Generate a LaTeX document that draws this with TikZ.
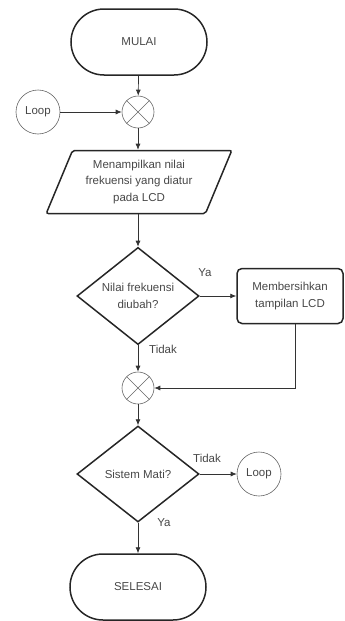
\documentclass[tikz,border=0pt]{standalone}
\usepackage{fontspec}
\setmainfont{Liberation Sans}
\usetikzlibrary{shapes.geometric,arrows.meta}

\begin{document}
\begin{tikzpicture}[x=1pt, y=-1pt,
		font=\fontsize{11.5}{16.5}\selectfont, text=black!72,
		terminal/.style={draw=black!85, line width=1.5pt, rectangle, rounded corners=33pt, minimum width=136pt, minimum height=66pt},
		proses/.style={draw=black!85, line width=1.5pt, rectangle, rounded corners=5pt, minimum width=106pt, minimum height=55pt, align=center},
		io/.style={draw=black!85, line width=1.5pt, trapezium, trapezium left angle=66, trapezium right angle=114, trapezium stretches=true, minimum width=186pt, minimum height=63pt, rounded corners=2pt, align=center},
		keputusan/.style={draw=black!85, line width=1.5pt, diamond, minimum width=122pt, minimum height=96pt, inner sep=0pt, align=center},
		gabung/.style={draw=black!60, line width=0.6pt, circle, minimum size=32pt, inner sep=0pt,
			path picture={\draw[black!60, line width=0.6pt] (path picture bounding box.north west) -- (path picture bounding box.south east) (path picture bounding box.north east) -- (path picture bounding box.south west);}},
		konektor/.style={draw=black!60, line width=0.6pt, circle, minimum size=44pt, inner sep=0pt},
		panah/.style={draw=black!80, line width=0.7pt, -{Latex[length=6pt,width=5pt]}}]
			%%%%% START %%%%%
			\useasboundingbox (0,0) rectangle (345,621);
			
			\node[terminal] (mulai) at (139, 42) {MULAI};
			\node[gabung] (m1) at (138, 112) {};
			\node[konektor] (loop1) at (38, 112) {Loop};
			\node[io] (inp) at (139, 182) {Menampilkan nilai\\frekuensi yang diatur\\pada LCD};
			
			\node[keputusan] (cek1) at (138, 296) {Nilai frekuensi\\diubah?};
			\node[proses] (hapus) at (290, 296) {Membersihkan\\tampilan LCD};
			\node[gabung] (m2) at (138, 388) {};
			
			\node[keputusan] (cek2) at (138, 474) {Sistem Mati?};
			\node[konektor] (loop2) at (259, 474) {Loop};
			\node[terminal] (selesai) at (138, 587) {SELESAI};
			
			% label cabang
			\node (ya1) at (205, 273) {Ya};
			\node (tidak1) at (163, 349) {Tidak};
			\node (tidak2) at (207, 458) {Tidak};
			\node (ya2) at (164, 523) {Ya};
			
			\draw[panah] (mulai) -- (m1);
			\draw[panah] (loop1) -- (m1);
			\draw[panah] (m1) -- (m1 |- inp.north);
			\draw[panah] (m1 |- inp.south) -- (cek1);
			\draw[panah] (cek1) -- (hapus);
			\draw[panah] ([xshift=5pt]hapus.south) |- (m2);
			\draw[panah] (cek1) -- (m2);
			\draw[panah] (m2) -- (cek2);
			\draw[panah] (cek2) -- (loop2);
			\draw[panah] (cek2) -- (selesai);
			%%%%% END %%%%%
\end{tikzpicture}
\end{document}
